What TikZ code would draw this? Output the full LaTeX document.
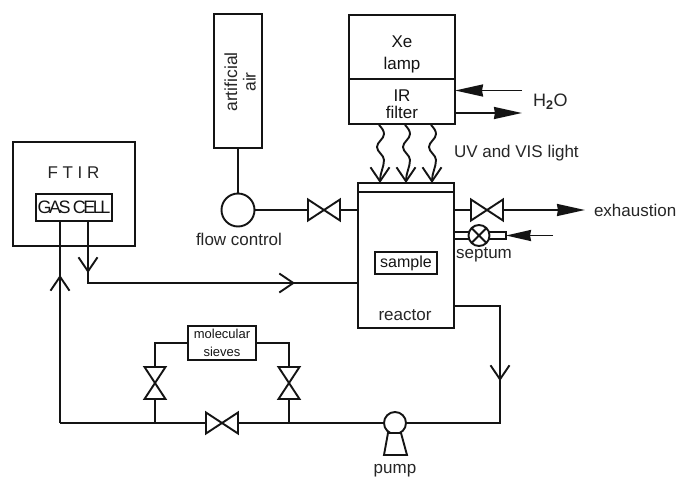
\documentclass[tikz,border=0pt]{standalone}
\usepackage{fontspec}
\setmainfont{Liberation Sans}
\usetikzlibrary{arrows.meta,calc}
\newcommand{\fsz}[1]{\fontsize{#1}{#1}\selectfont}
\tikzset{
  ln/.style={line width=1.9pt,black!92},
  boxn/.style={ln,draw,fill=white,inner sep=0pt,outer sep=0pt,align=center},
  lab/.style={inner sep=0pt,outer sep=0pt,text=black!85,align=center},
  valvenode/.style={inner sep=0pt,outer sep=0pt,minimum width=32pt,minimum height=21pt},
  valvev/.style={inner sep=0pt,outer sep=0pt,minimum width=21pt,minimum height=32pt},
  barb/.style={-{Straight Barb[length=14pt,width=19pt,line width=1.9pt]}},
  solidtip/.style={-{Stealth[length=28pt,width=12pt,inset=1pt]}},
}
\newcommand{\valveH}[3]{\node[valvenode] (#1) at (#2,#3) {};
  \draw[ln,fill=white,line join=miter] (#1.north west) -- (#1.south east) -- (#1.north east) -- (#1.south west) -- cycle;}
\newcommand{\valveV}[3]{\node[valvev] (#1) at (#2,#3) {};
  \draw[ln,fill=white,line join=miter] (#1.north west) -- (#1.north east) -- (#1.south west) -- (#1.south east) -- cycle;}
\begin{document}
\begin{tikzpicture}[x=1pt,y=-1pt]
\useasboundingbox[fill=white] (0,0) rectangle (678,477);
% lamp
\node[boxn,minimum width=106,minimum height=64,font=\fsz{17}] (lamp) at (402,47) {\rule{0pt}{26pt}Xe\\[5pt]lamp};
\node[boxn,minimum width=106,minimum height=45,font=\fsz{17}] (filter) at (402,101.5) {\rule{0pt}{18pt}IR\\filter};
\coordinate (h2oin) at (522,90.5);
\coordinate (h2oout) at (522,113);
\draw[ln,solidtip] (h2oin) -- (h2oin -| filter.east);
\draw[ln,solidtip] (h2oout -| filter.east) -- (h2oout);
\node[lab,anchor=west,font=\fsz{18}] (h2o) at (533,102) {H$_{\mathbf 2}$O};
\node[lab,anchor=west,font=\fsz{17}] (uv) at (454,153) {UV and VIS light};
% air
\node[boxn,minimum width=48,minimum height=134] (air) at (238,81) {};
\node[lab,rotate=90,font=\fsz{17.5}] (airtxt) at (240,82) {artificial\\[1pt]air};
\node[boxn,circle,minimum size=33] (flow) at (238,210) {};
\node[lab,font=\fsz{17}] (flowtxt) at (239,239) {flow control};
\draw[ln] (air.south) -- (flow.north);
% reactor
\node[boxn,minimum width=96,minimum height=145] (reactor) at (406,255.5) {};
\coordinate (rtopl) at (358,192);
\draw[ln] (rtopl) -- (rtopl -| reactor.east);
\node[boxn,minimum width=62,minimum height=22,font=\fsz{16}] (sample) at (406,263) {sample};
\node[lab,font=\fsz{17}] (reactortxt) at (405,315) {reactor};
% light
\foreach \n/\x in {a/379,b/405,c/431}{
  \coordinate (s\n) at (\x,125);
  \draw[ln,barb] (s\n) .. controls +(3,3) and +(0,-3) .. ++(5,9)
     .. controls +(0,5) and +(0,-5) .. ++(-7,13)
     .. controls +(0,5) and +(0,-5) .. ++(7,13)
     .. controls +(0,7) and +(0,-10) .. ++(-4,23);
}
% flow valve
\valveH{v1}{324}{210}
\draw[ln] (flow.east) -- (v1.west);
\draw[ln] (v1.east) -- (v1.east -| reactor.west);
% exhaust
\valveH{v2}{487}{210}
\coordinate (exh) at (585,210);
\draw[ln] (v2.west -| reactor.east) -- (v2.west);
\draw[ln,solidtip] (v2.east) -- (exh);
\node[lab,anchor=west,font=\fsz{17}] (exhtxt) at (594,210) {exhaustion};
% septum
\node[ln,draw,fill=white,inner sep=0pt,outer sep=0pt,minimum width=52,minimum height=7] (tube) at (480,235.5) {};
\node[ln,draw,circle,fill=white,inner sep=0pt,outer sep=0pt,minimum size=21] (sep) at (479,235.5) {};
\draw[ln] (sep.45) -- (sep.225) (sep.135) -- (sep.315);
\coordinate (sepin) at (553,235.5);
\draw[ln,-{Stealth[length=25pt,width=11pt,inset=1pt]}] (sepin) -- (tube.east);
\node[lab,font=\fsz{17}] (septxt) at (484,255) {septum};
% FTIR
\node[boxn,minimum width=122,minimum height=104] (ftir) at (74,194) {};
\node[lab,font=\fsz{17}] (ftirtxt) at (73.5,173) {F T I R};
\node[boxn,minimum width=76,minimum height=27] (cell) at (74,207.5) {\fontspec{Liberation Sans}[LetterSpace=-14]\fsz{18}GAS CELL};
\coordinate (cellL) at (60,221);
\coordinate (cellR) at (88,221);
\coordinate (corner) at (88,283);
\coordinate (bl) at (60,423);
\coordinate (rightb) at (500,423);
\coordinate (rout) at (454,306);
\coordinate (rcorner) at (500,306);
% pump
\node[boxn,circle,minimum size=22] (pump) at (395,423) {};
\coordinate (pa) at (388,433); \coordinate (pb) at (401,433);
\coordinate (pc) at (407,455); \coordinate (pd) at (384,455);
\draw[ln,fill=white] (pa) -- (pb) -- (pc) -- (pd) -- cycle;
\node[lab,font=\fsz{17}] (pumptxt) at (395,471) {pump};
% return lines
\draw[ln] (cellR) -- (corner) -- (corner -| reactor.west);
\draw[ln,barb] (cellR) -- (88,273);
\draw[ln,barb] (corner) -- (295,283);
\draw[ln] (rout) -- (rcorner) -- (rightb) -- (pump.east);
\draw[ln,barb] (rcorner) -- (500,381);
\draw[ln] (cellL) -- (bl);
\draw[ln,barb] (bl) -- (60,275);
% bottom valves
\coordinate (jl) at (155,423);
\coordinate (jr) at (289,423);
\valveH{v3}{222}{423}
\valveV{v4}{155}{383}
\valveV{v5}{289}{383}
\node[boxn,minimum width=68,minimum height=34,font=\fsz{13}] (sieve) at (222,343) {molecular\\[5pt]sieves};
\draw[ln] (bl) -- (v3.west);
\draw[ln] (v3.east) -- (pump.west);
\draw[ln] (jl) -- (v4.south);
\draw[ln] (jr) -- (v5.south);
\draw[ln] (v4.north) |- (sieve.west);
\draw[ln] (v5.north) |- (sieve.east);
\end{tikzpicture}
\end{document}
